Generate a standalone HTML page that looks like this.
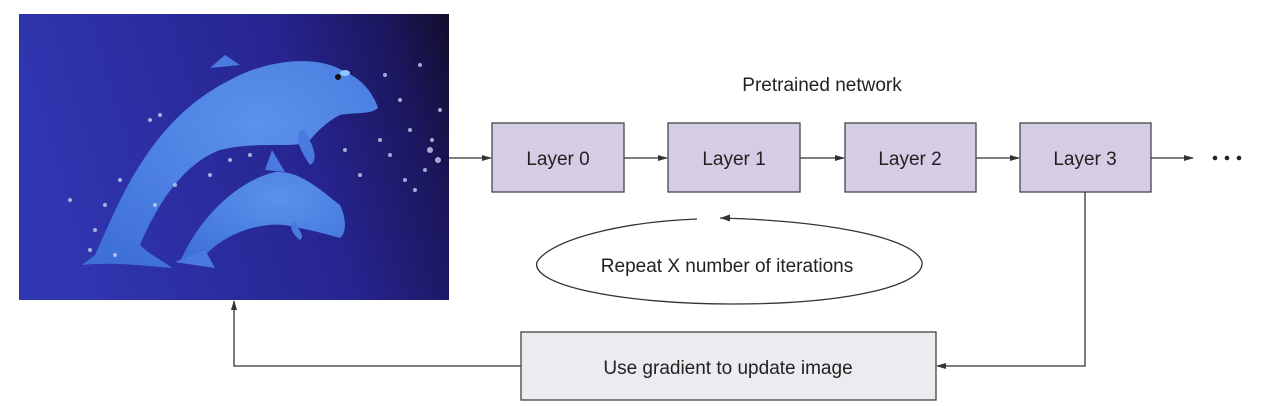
<!DOCTYPE html>
<html><head><meta charset="utf-8"><style>
html,body{margin:0;padding:0;background:#fff;}
svg{display:block;font-family:"Liberation Sans",sans-serif;}
</style></head><body>
<svg width="1277" height="406" viewBox="0 0 1277 406" xmlns="http://www.w3.org/2000/svg">
<defs>
<linearGradient id="bg" x1="0" y1="0.2" x2="1" y2="0">
<stop offset="0" stop-color="#3036b0"/><stop offset="0.6" stop-color="#26248f"/><stop offset="0.85" stop-color="#1c175e"/><stop offset="1" stop-color="#110d2c"/>
</linearGradient>
<radialGradient id="dol" cx="0.6" cy="0.3" r="0.8">
<stop offset="0" stop-color="#5b92ec"/><stop offset="1" stop-color="#3f70d8"/>
</radialGradient>
<marker id="ah" markerWidth="10" markerHeight="8" refX="9" refY="4" orient="auto" markerUnits="userSpaceOnUse">
<path d="M0,1 L10,4 L0,7 z" fill="#333"/>
</marker>
</defs>
<rect x="19" y="14" width="430" height="286" fill="url(#bg)"/>
<path d="M95,255 C120,200 150,120 230,80 C270,58 320,55 345,72 C365,80 375,98 378,108 C370,115 355,112 340,115 C330,120 320,128 310,140 C300,150 260,140 220,150 C180,165 155,210 140,245 C150,255 165,262 172,268 C140,265 110,262 82,265 Z" fill="url(#dol)"/>
<path d="M210,68 L225,55 L240,65 Z" fill="#4a7ae0"/>
<path d="M305,130 C315,150 318,160 310,165 C300,150 295,140 300,130 Z" fill="#4a7ae0"/>
<path d="M180,262 C200,215 240,180 275,172 C300,170 320,190 340,205 C345,215 348,232 340,238 C320,232 300,228 285,225 C250,222 215,240 200,262 Z" fill="url(#dol)"/>
<path d="M175,262 L205,250 L215,268 Z" fill="#4a7ae0"/>
<path d="M265,170 L272,150 L285,172 Z" fill="#4a7ae0"/>
<path d="M295,222 C300,232 305,236 300,240 C292,234 290,228 292,222 Z" fill="#4a7ae0"/>
<circle cx="338" cy="77" r="3" fill="#111"/>
<ellipse cx="345" cy="73" rx="5" ry="3" fill="#8fc8ff"/>
<g fill="#c8d0f0" opacity="0.8">
<circle cx="70" cy="200" r="2"/><circle cx="95" cy="230" r="2"/><circle cx="105" cy="205" r="2"/><circle cx="120" cy="180" r="2"/><circle cx="150" cy="120" r="2"/><circle cx="160" cy="115" r="2"/><circle cx="90" cy="250" r="2"/><circle cx="115" cy="255" r="2"/><circle cx="155" cy="205" r="2"/><circle cx="175" cy="185" r="2"/><circle cx="210" cy="175" r="2"/><circle cx="230" cy="160" r="2"/><circle cx="250" cy="155" r="2"/>
<circle cx="385" cy="75" r="2"/><circle cx="400" cy="100" r="2"/><circle cx="410" cy="130" r="2"/><circle cx="430" cy="150" r="3"/><circle cx="438" cy="160" r="3"/><circle cx="425" cy="170" r="2"/><circle cx="390" cy="155" r="2"/><circle cx="380" cy="140" r="2"/><circle cx="405" cy="180" r="2"/><circle cx="420" cy="65" r="2"/><circle cx="440" cy="110" r="2"/><circle cx="345" cy="150" r="2"/><circle cx="360" cy="175" r="2"/><circle cx="432" cy="140" r="2"/><circle cx="415" cy="190" r="2"/>
</g>
<text x="822" y="91" font-size="19" text-anchor="middle" fill="#222">Pretrained network</text>
<g stroke="#333" stroke-width="1.3" fill="none">
<line x1="449" y1="158" x2="491" y2="158" marker-end="url(#ah)"/>
<line x1="624" y1="158" x2="667" y2="158" marker-end="url(#ah)"/>
<line x1="800" y1="158" x2="844" y2="158" marker-end="url(#ah)"/>
<line x1="976" y1="158" x2="1019" y2="158" marker-end="url(#ah)"/>
<line x1="1151" y1="158" x2="1193" y2="158" marker-end="url(#ah)"/>
<polyline points="1085,192 1085,366 937,366" marker-end="url(#ah)"/>
<polyline points="521,366 234,366 234,301" marker-end="url(#ah)"/>
<path d="M697,219 C620,222 550,240 537,262 C530,285 620,304 733,304 C850,304 925,285 922,262 C915,238 830,221 720,218" />
<path d="M720,218 L730,214.5 L730,221.5 z" fill="#333" stroke="none"/>
</g>
<g fill="#d5cce6" stroke="#444" stroke-width="1.3">
<rect x="492" y="123" width="132" height="69"/>
<rect x="668" y="123" width="132" height="69"/>
<rect x="845" y="123" width="131" height="69"/>
<rect x="1020" y="123" width="131" height="69"/>
</g>
<g font-size="19" fill="#222" text-anchor="middle">
<text x="558" y="165">Layer 0</text>
<text x="734" y="165">Layer 1</text>
<text x="910" y="165">Layer 2</text>
<text x="1085" y="165">Layer 3</text>
<text x="727" y="272">Repeat X number of iterations</text>
</g>
<g fill="#222"><circle cx="1215" cy="158" r="2.3"/><circle cx="1227" cy="158" r="2.3"/><circle cx="1239" cy="158" r="2.3"/></g>
<rect x="521" y="332" width="415" height="68" fill="#ececf0" stroke="#444" stroke-width="1.3"/>
<text x="728" y="374" font-size="19" text-anchor="middle" fill="#222">Use gradient to update image</text>
</svg>
</body></html>
